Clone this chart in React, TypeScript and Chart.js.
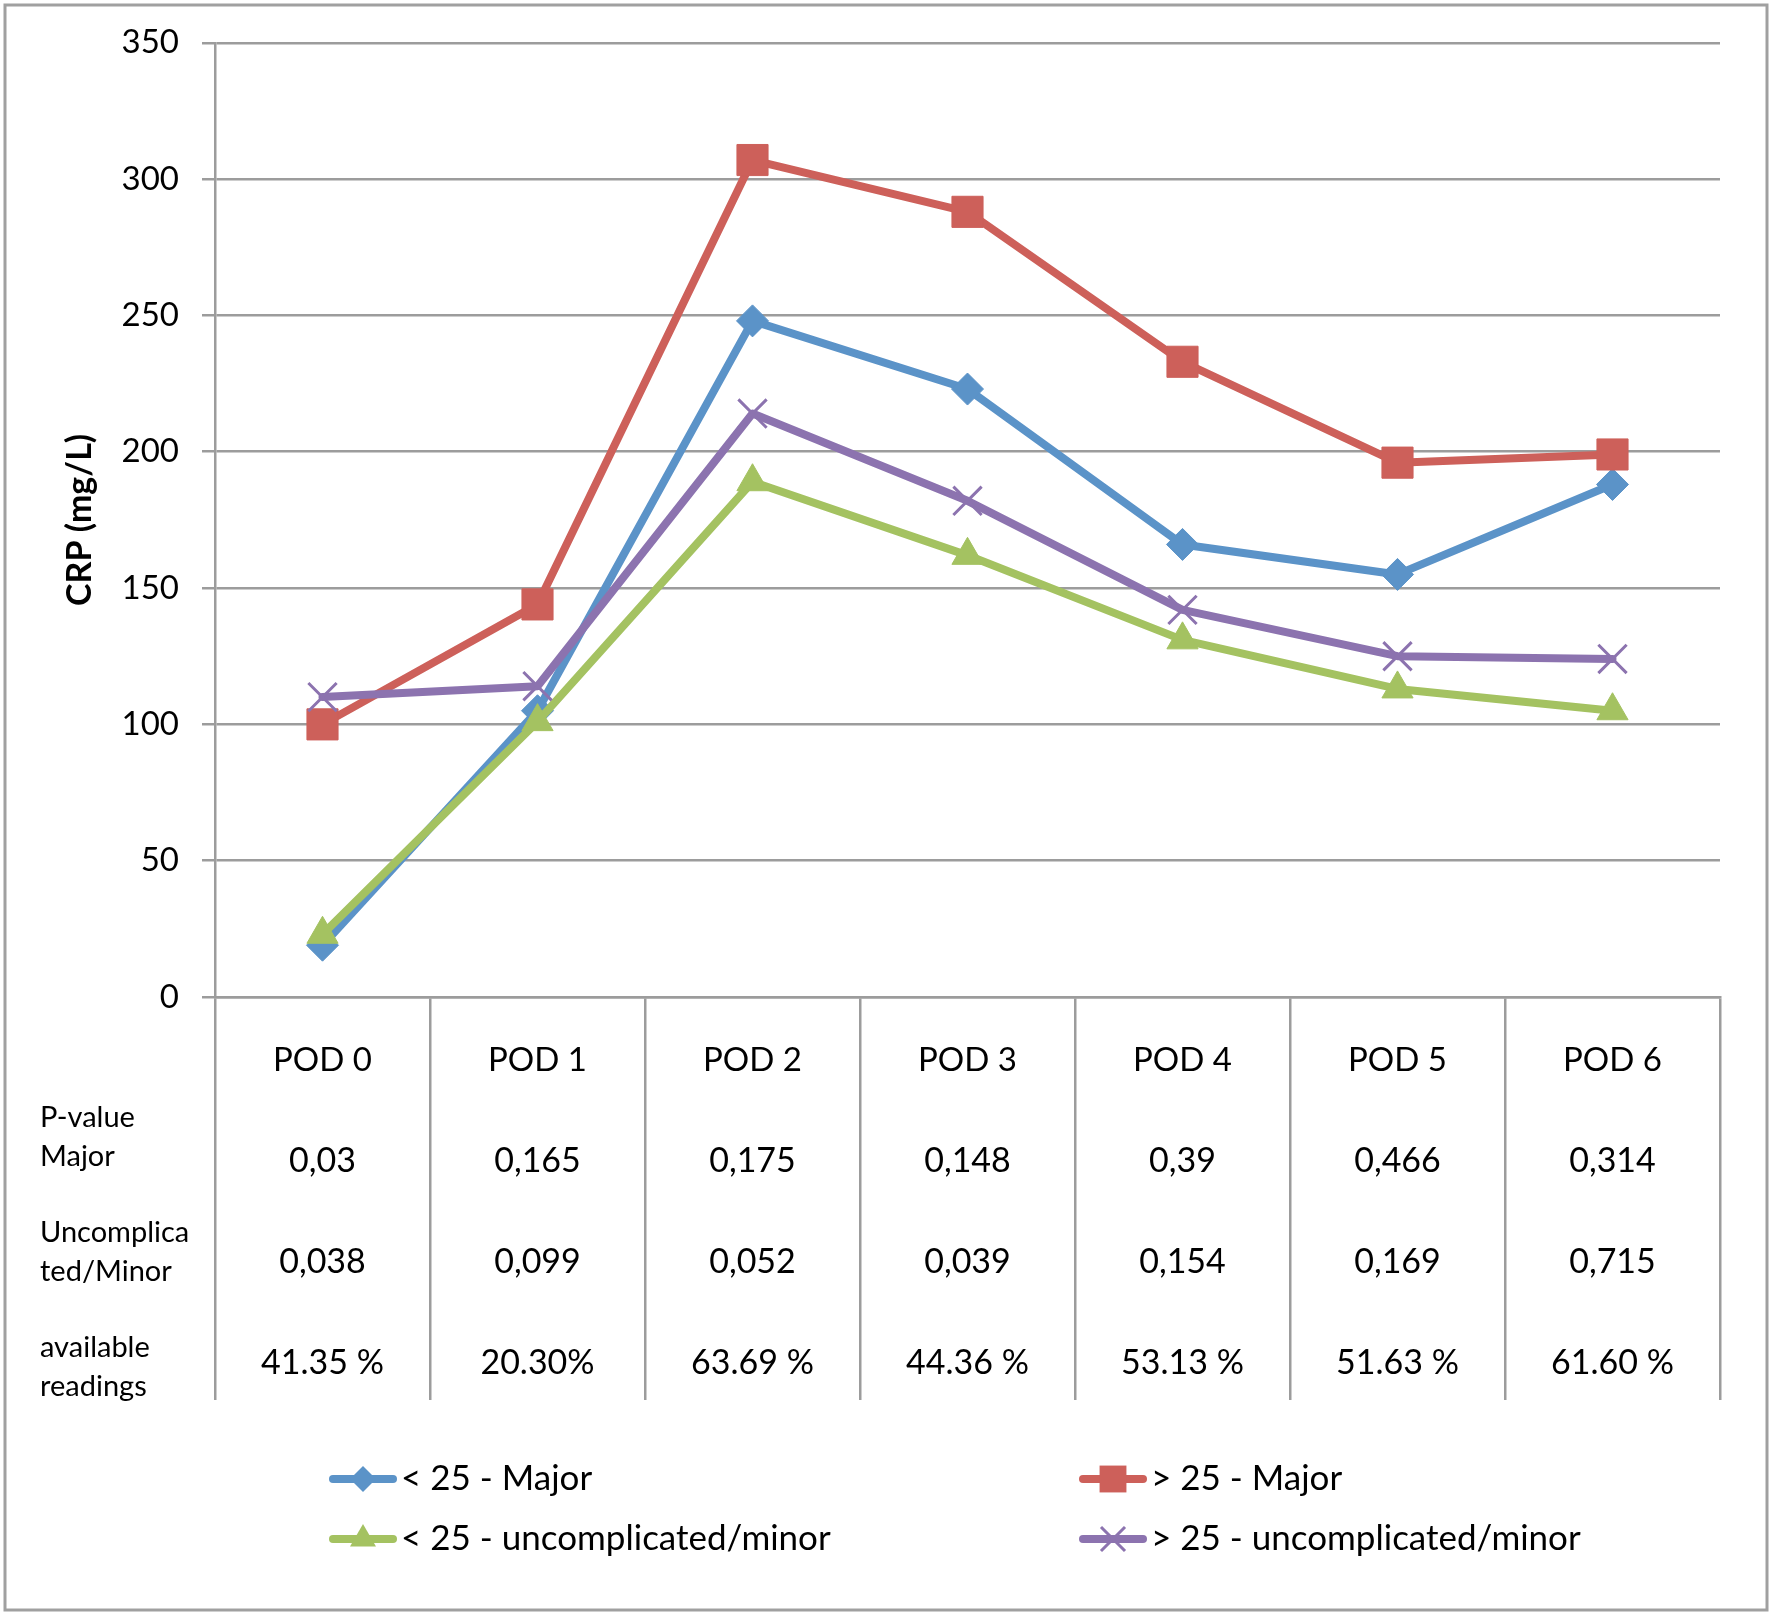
import React, { useEffect, useRef } from 'react';
import { Chart, registerables } from 'chart.js';

Chart.register(...registerables);

const categories = ['POD 0', 'POD 1', 'POD 2', 'POD 3', 'POD 4', 'POD 5', 'POD 6'];
const lt25Major = [19, 105, 248, 223, 166, 155, 188];
const gt25Major = [100, 144, 307, 288, 233, 196, 199];
const lt25Minor = [23, 101, 189, 162, 131, 113, 105];
const gt25Minor = [110, 114, 214, 182, 142, 125, 124];

const pValueMajor = ['0,03', '0,165', '0,175', '0,148', '0,39', '0,466', '0,314'];
const pValueMinor = ['0,038', '0,099', '0,052', '0,039', '0,154', '0,169', '0,715'];
const availableReadings = ['41.35 %', '20.30%', '63.69 %', '44.36 %', '53.13 %', '51.63 %', '61.60 %'];
const rowLabels = [
  ['P-value', 'Major'],
  ['Uncomplica', 'ted/Minor'],
  ['available', 'readings'],
];
const seriesLabels = ['< 25 - Major', '> 25 - Major', '< 25 - uncomplicated/minor', '> 25 - uncomplicated/minor'];

const yMin = 0;
const yMax = 350;
const yStep = 50;

const BLUE = '#5B93C8';
const RED = '#CD605A';
const GREEN = '#A4C261';
const PURPLE = '#8C73AF';
const GRAY = '#9c9c9c';
const FONT = 'Lato, "Open Sans", sans-serif';

function drawMarker(ctx: CanvasRenderingContext2D, style: string, x: number, y: number, r: number, color: string) {
  ctx.save();
  ctx.fillStyle = color;
  ctx.strokeStyle = color;
  ctx.beginPath();
  if (style === 'rectRot') {
    ctx.moveTo(x - r, y);
    ctx.lineTo(x, y - r);
    ctx.lineTo(x + r, y);
    ctx.lineTo(x, y + r);
    ctx.closePath();
    ctx.fill();
  } else if (style === 'rect') {
    const s = r * Math.SQRT1_2;
    ctx.rect(x - s, y - s, 2 * s, 2 * s);
    ctx.fill();
  } else if (style === 'triangle') {
    ctx.moveTo(x, y - r);
    ctx.lineTo(x + r * Math.sin((2 * Math.PI) / 3), y + r / 2);
    ctx.lineTo(x - r * Math.sin((2 * Math.PI) / 3), y + r / 2);
    ctx.closePath();
    ctx.fill();
  } else if (style === 'crossRot') {
    const o = r * Math.SQRT1_2;
    ctx.lineWidth = 3;
    ctx.moveTo(x - o, y - o);
    ctx.lineTo(x + o, y + o);
    ctx.moveTo(x - o, y + o);
    ctx.lineTo(x + o, y - o);
    ctx.stroke();
  }
  ctx.restore();
}

const tablePlugin = {
  id: 'tableAndLegend',
  beforeDraw(chart: any) {
    const ctx: CanvasRenderingContext2D = chart.ctx;
    ctx.save();
    ctx.fillStyle = '#ffffff';
    ctx.fillRect(0, 0, chart.width, chart.height);
    ctx.strokeStyle = '#a0a0a0';
    ctx.lineWidth = 3;
    ctx.strokeRect(5, 5, chart.width - 10, chart.height - 10);
    ctx.restore();
  },
  afterDraw(chart: any) {
    const ctx: CanvasRenderingContext2D = chart.ctx;
    const xs = chart.scales.x;
    const bottom = chart.chartArea.bottom;
    ctx.save();
    ctx.fillStyle = '#000';
    ctx.textAlign = 'center';
    ctx.textBaseline = 'middle';
    categories.forEach((c, i) => {
      const cx = xs.getPixelForValue(i);
      ctx.font = `33px ${FONT}`;
      ctx.fillText(c, cx, bottom + 63);
      ctx.font = `34px ${FONT}`;
      ctx.fillText(pValueMajor[i], cx, bottom + 164);
      ctx.fillText(pValueMinor[i], cx, bottom + 265);
      ctx.fillText(availableReadings[i], cx, bottom + 366);
    });
    ctx.textAlign = 'left';
    ctx.font = `29px ${FONT}`;
    const rowY = [121, 236, 351];
    rowLabels.forEach((lines, r) => {
      lines.forEach((t, k) => ctx.fillText(t, 40, bottom + rowY[r] + k * 39));
    });

    // legend
    const items = [
      { label: seriesLabels[0], color: BLUE, style: 'rectRot', r: 13, col: 0, row: 0 },
      { label: seriesLabels[1], color: RED, style: 'rect', r: 19, col: 1, row: 0 },
      { label: seriesLabels[2], color: GREEN, style: 'triangle', r: 15, col: 0, row: 1 },
      { label: seriesLabels[3], color: PURPLE, style: 'crossRot', r: 17, col: 1, row: 1 },
    ];
    const colX = [329, 1079];
    const rowLY = [bottom + 482, bottom + 542];
    ctx.font = `35px ${FONT}`;
    items.forEach((it) => {
      const x0 = colX[it.col];
      const y = rowLY[it.row];
      ctx.save();
      ctx.strokeStyle = it.color;
      ctx.lineWidth = 8;
      ctx.lineCap = 'round';
      ctx.beginPath();
      ctx.moveTo(x0 + 4, y);
      ctx.lineTo(x0 + 64, y);
      ctx.stroke();
      ctx.restore();
      drawMarker(ctx, it.style, x0 + 34, y, it.r, it.color);
      ctx.fillStyle = '#000';
      ctx.fillText(it.label, x0 + 72, y);
    });
    ctx.restore();
  },
};

export default function App() {
  const ref = useRef<HTMLCanvasElement | null>(null);
  useEffect(() => {
    document.body.style.margin = '0';
    if (!ref.current) return;
    const common = {
      borderWidth: 8,
      borderJoinStyle: 'round' as const,
      borderCapStyle: 'round' as const,
      tension: 0,
      fill: false,
    };
    const chart = new Chart(ref.current, {
      type: 'line',
      data: {
        labels: categories,
        datasets: [
          {
            ...common,
            label: seriesLabels[0],
            data: lt25Major,
            borderColor: BLUE,
            backgroundColor: BLUE,
            pointStyle: 'rectRot',
            pointRadius: 16,
            pointBorderWidth: 1,
            order: 3,
          },
          {
            ...common,
            label: seriesLabels[1],
            data: gt25Major,
            borderColor: RED,
            backgroundColor: RED,
            pointStyle: 'rect',
            pointRadius: 22,
            pointBorderWidth: 1,
            order: 2,
          },
          {
            ...common,
            label: seriesLabels[2],
            data: lt25Minor,
            borderColor: GREEN,
            backgroundColor: GREEN,
            pointStyle: 'triangle',
            pointRadius: 18,
            pointBorderWidth: 1,
            order: 1,
          },
          {
            ...common,
            label: seriesLabels[3],
            data: gt25Minor,
            borderColor: PURPLE,
            backgroundColor: PURPLE,
            pointStyle: 'crossRot',
            pointRadius: 20,
            pointBorderWidth: 3,
            order: 0,
          },
        ],
      },
      options: {
        responsive: false,
        animation: false,
        devicePixelRatio: 1,
        layout: { padding: { top: 38, right: 52, left: 0, bottom: 0 } },
        plugins: { legend: { display: false }, tooltip: { enabled: false }, title: { display: false } },
        scales: {
          x: {
            type: 'category',
            offset: true,
            grid: {
              offset: true,
              drawOnChartArea: false,
              drawTicks: true,
              tickLength: 403,
              color: GRAY,
              lineWidth: 2.5,
            },
            border: { display: true, color: GRAY, width: 2.5 },
            ticks: { display: false },
            afterFit: (s: any) => {
              s.height = 618;
            },
          },
          y: {
            min: yMin,
            max: yMax,
            ticks: {
              stepSize: yStep,
              color: '#000',
              font: { family: FONT, size: 33 },
              padding: 23,
            },
            grid: { color: GRAY, lineWidth: 2.5, tickLength: 13 },
            border: { display: true, color: GRAY, width: 2.5 },
            title: {
              display: true,
              text: 'CRP (mg/L)',
              color: '#000',
              font: { family: FONT, size: 34, weight: 'bold' },
              padding: { top: 60, bottom: 0 },
            },
            afterFit: (s: any) => {
              s.width = 215;
            },
          },
        },
      },
      plugins: [tablePlugin],
    });
    return () => chart.destroy();
  }, []);
  return <canvas ref={ref} width={1772} height={1615} style={{ display: 'block', width: 1772, height: 1615 }} />;
}
